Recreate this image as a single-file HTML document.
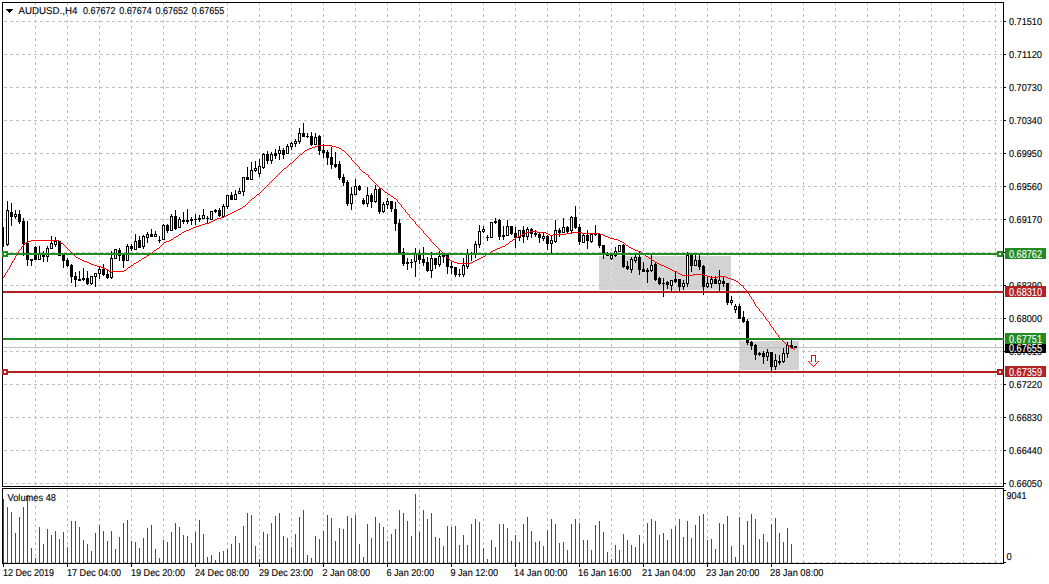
<!DOCTYPE html>
<html><head><meta charset="utf-8"><title>AUDUSD H4</title>
<style>html,body{margin:0;padding:0;background:#fff;overflow:hidden}svg{display:block}</style>
</head><body>
<svg width="1049" height="584" viewBox="0 0 1049 584" shape-rendering="crispEdges" font-family="Liberation Sans, sans-serif" font-size="10px">
<rect width="1049" height="584" fill="#fff"/>
<path d="M35.5 2V486M35.5 488V563M67.5 2V486M67.5 488V563M99.5 2V486M99.5 488V563M131.5 2V486M131.5 488V563M163.5 2V486M163.5 488V563M195.5 2V486M195.5 488V563M227.5 2V486M227.5 488V563M259.5 2V486M259.5 488V563M291.5 2V486M291.5 488V563M323.5 2V486M323.5 488V563M355.5 2V486M355.5 488V563M387.5 2V486M387.5 488V563M419.5 2V486M419.5 488V563M451.5 2V486M451.5 488V563M483.5 2V486M483.5 488V563M515.5 2V486M515.5 488V563M547.5 2V486M547.5 488V563M579.5 2V486M579.5 488V563M611.5 2V486M611.5 488V563M643.5 2V486M643.5 488V563M675.5 2V486M675.5 488V563M707.5 2V486M707.5 488V563M739.5 2V486M739.5 488V563M771.5 2V486M771.5 488V563M803.5 2V486M803.5 488V563M835.5 2V486M835.5 488V563M867.5 2V486M867.5 488V563M899.5 2V486M899.5 488V563M931.5 2V486M931.5 488V563M963.5 2V486M963.5 488V563M995.5 2V486M995.5 488V563" stroke="#c0c0c0" stroke-width="1" stroke-dasharray="3 3" fill="none"/>
<path d="M4 21.5H1002M4 54.5H1002M4 87.5H1002M4 120.5H1002M4 153.5H1002M4 186.5H1002M4 219.5H1002M4 252.5H1002M4 285.5H1002M4 318.5H1002M4 351.5H1002M4 384.5H1002M4 417.5H1002M4 450.5H1002M4 483.5H1002" stroke="#c0c0c0" stroke-width="1" stroke-dasharray="3 3" fill="none"/>
<path d="M4 562.5H1002" stroke="#c0c0c0" stroke-dasharray="3 3" fill="none"/>
<!--RECTS-->
<rect x="599" y="256" width="132" height="34" fill="#d3d3d3"/>
<rect x="739" y="341" width="60" height="29" fill="#d3d3d3"/>
<clipPath id="rc"><rect x="599" y="256" width="132" height="34"/><rect x="739" y="341" width="60" height="29"/></clipPath>
<path clip-path="url(#rc)" d="M611.5 2V486M643.5 2V486M675.5 2V486M707.5 2V486M739.5 2V486M771.5 2V486" stroke="#e8e8e8" stroke-width="1" stroke-dasharray="3 3" fill="none"/>
<path clip-path="url(#rc)" d="M4 285.5H1002M4 351.5H1002" stroke="#c4c4c4" stroke-width="1" stroke-dasharray="3 3" fill="none"/>
<rect x="3" y="347" width="1000" height="1" fill="#c0c0c0"/>
<path d="M3 227h1v20h-1zM7 201h1v45h-1zM11 203h1v23h-1zM15 210h1v9h-1zM19 210h1v14h-1zM23 218h1v38h-1zM27 221h1v45h-1zM31 259h1v7h-1zM35 246h1v14h-1zM39 246h1v14h-1zM43 251h1v11h-1zM47 246h1v16h-1zM51 236h1v13h-1zM55 237h1v10h-1zM59 241h1v15h-1zM63 254h1v14h-1zM67 258h1v9h-1zM71 264h1v19h-1zM75 272h1v15h-1zM79 271h1v10h-1zM83 268h1v13h-1zM87 271h1v14h-1zM91 276h1v9h-1zM95 273h1v14h-1zM99 267h1v12h-1zM103 264h1v12h-1zM107 270h1v9h-1zM111 251h1v28h-1zM115 249h1v10h-1zM119 248h1v13h-1zM123 253h1v15h-1zM127 244h1v17h-1zM131 244h1v7h-1zM135 234h1v16h-1zM139 236h1v12h-1zM143 235h1v14h-1zM147 232h1v11h-1zM151 229h1v8h-1zM155 231h1v6h-1zM159 236h1v7h-1zM163 224h1v16h-1zM167 224h1v9h-1zM171 214h1v17h-1zM175 210h1v20h-1zM179 217h1v11h-1zM183 212h1v12h-1zM187 209h1v15h-1zM191 217h1v8h-1zM195 214h1v11h-1zM199 215h1v7h-1zM203 209h1v10h-1zM207 216h1v8h-1zM211 211h1v9h-1zM215 209h1v4h-1zM219 208h1v9h-1zM223 204h1v13h-1zM227 195h1v14h-1zM231 192h1v8h-1zM235 190h1v10h-1zM239 188h1v6h-1zM243 177h1v19h-1zM247 167h1v13h-1zM251 162h1v18h-1zM255 161h1v11h-1zM259 159h1v18h-1zM263 153h1v16h-1zM267 151h1v13h-1zM271 152h1v12h-1zM275 149h1v10h-1zM279 146h1v14h-1zM283 148h1v11h-1zM287 144h1v10h-1zM291 142h1v8h-1zM295 139h1v8h-1zM299 128h1v16h-1zM303 123h1v14h-1zM307 133h1v5h-1zM311 132h1v14h-1zM315 133h1v12h-1zM319 135h1v20h-1zM323 144h1v14h-1zM327 150h1v15h-1zM331 147h1v22h-1zM335 152h1v16h-1zM339 161h1v19h-1zM343 174h1v12h-1zM347 180h1v26h-1zM351 187h1v23h-1zM355 179h1v16h-1zM359 185h1v6h-1zM363 198h1v7h-1zM367 187h1v20h-1zM371 193h1v15h-1zM375 185h1v18h-1zM379 188h1v26h-1zM383 202h1v11h-1zM387 198h1v11h-1zM391 201h1v11h-1zM395 202h1v29h-1zM399 219h1v36h-1zM403 248h1v18h-1zM407 258h1v12h-1zM411 259h1v9h-1zM415 248h1v29h-1zM419 250h1v14h-1zM423 247h1v19h-1zM427 257h1v15h-1zM431 252h1v26h-1zM435 258h1v11h-1zM439 251h1v16h-1zM443 253h1v10h-1zM447 253h1v21h-1zM451 262h1v12h-1zM455 267h1v10h-1zM459 269h1v8h-1zM463 258h1v19h-1zM467 249h1v20h-1zM471 252h1v9h-1zM475 241h1v17h-1zM479 225h1v23h-1zM483 226h1v7h-1zM487 235h1v6h-1zM491 222h1v16h-1zM495 218h1v6h-1zM499 219h1v21h-1zM503 226h1v14h-1zM507 220h1v16h-1zM511 226h1v9h-1zM515 227h1v21h-1zM519 230h1v11h-1zM523 226h1v17h-1zM527 227h1v13h-1zM531 228h1v10h-1zM535 230h1v7h-1zM539 233h1v10h-1zM543 233h1v8h-1zM547 235h1v15h-1zM551 236h1v18h-1zM555 220h1v23h-1zM559 228h1v9h-1zM563 218h1v15h-1zM567 226h1v7h-1zM571 216h1v17h-1zM575 206h1v23h-1zM579 224h1v21h-1zM583 234h1v9h-1zM587 230h1v19h-1zM591 234h1v9h-1zM595 225h1v11h-1zM599 233h1v15h-1zM603 245h1v14h-1zM607 252h1v4h-1zM611 253h1v7h-1zM615 247h1v10h-1zM619 245h1v7h-1zM623 244h1v24h-1zM627 261h1v9h-1zM631 257h1v16h-1zM635 255h1v8h-1zM639 251h1v24h-1zM643 262h1v10h-1zM647 268h1v15h-1zM651 254h1v18h-1zM655 262h1v19h-1zM659 277h1v8h-1zM663 278h1v19h-1zM667 281h1v8h-1zM671 280h1v11h-1zM675 271h1v12h-1zM679 279h1v12h-1zM683 280h1v10h-1zM687 252h1v35h-1zM691 253h1v19h-1zM695 254h1v12h-1zM699 254h1v16h-1zM703 265h1v30h-1zM707 276h1v12h-1zM711 276h1v12h-1zM715 276h1v8h-1zM719 270h1v21h-1zM723 277h1v10h-1zM727 283h1v22h-1zM731 296h1v9h-1zM735 304h1v9h-1zM739 304h1v15h-1zM743 311h1v12h-1zM747 319h1v26h-1zM751 341h1v9h-1zM755 344h1v16h-1zM759 352h1v4h-1zM763 351h1v13h-1zM767 349h1v12h-1zM771 352h1v19h-1zM775 354h1v16h-1zM779 355h1v10h-1zM783 348h1v15h-1zM787 342h1v16h-1zM791 340h1v9h-1zM795 346h1v2h-1zM2 227h2v19h-2zM6 210h3v35h-3zM10 212h3v5h-3zM14 214h3v3h-3zM18 214h3v8h-3zM22 221h3v23h-3zM26 243h3v17h-3zM30 259h3v2h-3zM34 247h3v13h-3zM38 253h3v7h-3zM42 254h3v3h-3zM46 248h3v9h-3zM50 243h3v6h-3zM54 241h3v4h-3zM58 241h3v15h-3zM62 254h3v7h-3zM66 260h3v6h-3zM70 265h3v12h-3zM74 276h3v4h-3zM78 279h3v2h-3zM82 278h3v2h-3zM86 278h3v6h-3zM90 276h3v8h-3zM94 273h3v4h-3zM98 269h3v5h-3zM102 269h3v6h-3zM106 274h3v4h-3zM110 258h3v20h-3zM114 249h3v10h-3zM118 250h3v6h-3zM122 253h3v8h-3zM126 246h3v15h-3zM130 246h3v3h-3zM134 241h3v9h-3zM138 240h3v8h-3zM142 236h3v11h-3zM146 234h3v4h-3zM150 234h3v3h-3zM154 234h3v3h-3zM158 240h3v1h-3zM162 225h3v15h-3zM166 225h3v6h-3zM170 216h3v15h-3zM174 216h3v13h-3zM178 219h3v9h-3zM182 220h3v2h-3zM186 220h3v2h-3zM190 219h3v2h-3zM194 219h3v1h-3zM198 218h3v2h-3zM202 215h3v4h-3zM206 218h3v1h-3zM210 211h3v9h-3zM214 210h3v2h-3zM218 210h3v6h-3zM222 206h3v11h-3zM226 195h3v12h-3zM230 195h3v5h-3zM234 194h3v6h-3zM238 191h3v3h-3zM242 177h3v15h-3zM246 177h3v3h-3zM250 170h3v10h-3zM254 168h3v3h-3zM258 166h3v8h-3zM262 154h3v14h-3zM266 154h3v7h-3zM270 154h3v7h-3zM274 153h3v3h-3zM278 150h3v4h-3zM282 150h3v5h-3zM286 146h3v8h-3zM290 143h3v4h-3zM294 141h3v3h-3zM298 133h3v9h-3zM302 133h3v4h-3zM306 136h3v1h-3zM310 136h3v9h-3zM314 137h3v8h-3zM318 136h3v15h-3zM322 150h3v3h-3zM326 152h3v6h-3zM330 157h3v8h-3zM334 164h3v3h-3zM338 164h3v14h-3zM342 177h3v6h-3zM346 182h3v22h-3zM350 194h3v10h-3zM354 186h3v9h-3zM358 186h3v4h-3zM362 200h3v4h-3zM366 195h3v9h-3zM370 195h3v7h-3zM374 189h3v13h-3zM378 189h3v23h-3zM382 204h3v8h-3zM386 201h3v4h-3zM390 201h3v8h-3zM394 209h3v15h-3zM398 223h3v32h-3zM402 252h3v12h-3zM406 262h3v2h-3zM410 262h3v1h-3zM414 254h3v8h-3zM418 254h3v6h-3zM422 259h3v4h-3zM426 262h3v9h-3zM430 258h3v13h-3zM434 258h3v7h-3zM438 256h3v9h-3zM442 254h3v3h-3zM446 254h3v13h-3zM450 266h3v2h-3zM454 267h3v8h-3zM458 274h3v1h-3zM462 265h3v10h-3zM466 254h3v13h-3zM470 253h3v2h-3zM474 244h3v10h-3zM478 231h3v14h-3zM482 229h3v3h-3zM486 237h3v1h-3zM490 222h3v16h-3zM494 221h3v2h-3zM498 220h3v17h-3zM502 235h3v2h-3zM506 226h3v10h-3zM510 226h3v8h-3zM514 233h3v5h-3zM518 230h3v8h-3zM522 230h3v7h-3zM526 229h3v8h-3zM530 229h3v5h-3zM534 233h3v2h-3zM538 234h3v4h-3zM542 236h3v3h-3zM546 236h3v8h-3zM550 240h3v4h-3zM554 230h3v12h-3zM558 230h3v3h-3zM562 227h3v6h-3zM566 227h3v5h-3zM570 217h3v14h-3zM574 217h3v11h-3zM578 227h3v15h-3zM582 235h3v8h-3zM586 235h3v6h-3zM590 234h3v8h-3zM594 233h3v2h-3zM598 234h3v12h-3zM602 245h3v10h-3zM606 255h3v1h-3zM610 255h3v4h-3zM614 251h3v5h-3zM618 245h3v7h-3zM622 245h3v22h-3zM626 266h3v3h-3zM630 259h3v11h-3zM634 257h3v4h-3zM638 257h3v13h-3zM642 269h3v3h-3zM646 270h3v2h-3zM650 265h3v6h-3zM654 264h3v16h-3zM658 278h3v6h-3zM662 283h3v1h-3zM666 282h3v3h-3zM670 280h3v6h-3zM674 279h3v3h-3zM678 279h3v8h-3zM682 283h3v4h-3zM686 255h3v29h-3zM690 254h3v12h-3zM694 260h3v6h-3zM698 260h3v7h-3zM702 266h3v21h-3zM706 283h3v4h-3zM710 279h3v5h-3zM714 279h3v5h-3zM718 280h3v4h-3zM722 281h3v3h-3zM726 283h3v20h-3zM730 300h3v3h-3zM734 306h3v4h-3zM738 306h3v13h-3zM742 317h3v5h-3zM746 321h3v22h-3zM750 342h3v4h-3zM754 345h3v10h-3zM758 353h3v2h-3zM762 353h3v4h-3zM766 352h3v5h-3zM770 352h3v15h-3zM774 360h3v7h-3zM778 361h3v2h-3zM782 353h3v9h-3zM786 345h3v9h-3zM790 345h3v3h-3zM794 346h3v2h-3z" fill="#000"/>
<path d="M7 211h1v33h-1zM15 215h1v1h-1zM39 254h1v5h-1zM47 249h1v7h-1zM51 244h1v4h-1zM55 242h1v2h-1zM91 277h1v6h-1zM95 274h1v2h-1zM99 270h1v3h-1zM111 259h1v18h-1zM115 250h1v8h-1zM127 247h1v13h-1zM135 242h1v7h-1zM143 237h1v9h-1zM147 235h1v2h-1zM155 235h1v1h-1zM163 226h1v13h-1zM171 217h1v13h-1zM179 220h1v7h-1zM203 216h1v2h-1zM211 212h1v7h-1zM223 207h1v9h-1zM227 196h1v10h-1zM235 195h1v4h-1zM239 192h1v1h-1zM243 178h1v13h-1zM251 171h1v8h-1zM255 169h1v1h-1zM259 167h1v6h-1zM263 155h1v12h-1zM271 155h1v5h-1zM279 151h1v2h-1zM287 147h1v6h-1zM291 144h1v2h-1zM295 142h1v1h-1zM299 134h1v7h-1zM315 138h1v6h-1zM351 195h1v8h-1zM355 187h1v7h-1zM367 196h1v7h-1zM375 190h1v11h-1zM383 205h1v6h-1zM387 202h1v2h-1zM415 255h1v6h-1zM431 259h1v11h-1zM439 257h1v7h-1zM463 266h1v8h-1zM467 255h1v11h-1zM475 245h1v8h-1zM479 232h1v12h-1zM483 230h1v1h-1zM491 223h1v14h-1zM507 227h1v8h-1zM519 231h1v6h-1zM527 230h1v6h-1zM543 237h1v1h-1zM551 241h1v2h-1zM555 231h1v10h-1zM563 228h1v4h-1zM571 218h1v12h-1zM583 236h1v6h-1zM591 235h1v6h-1zM611 256h1v2h-1zM615 252h1v3h-1zM619 246h1v5h-1zM631 260h1v9h-1zM635 258h1v2h-1zM651 266h1v4h-1zM671 281h1v4h-1zM683 284h1v2h-1zM687 256h1v27h-1zM695 261h1v4h-1zM707 284h1v2h-1zM711 280h1v3h-1zM719 281h1v2h-1zM731 301h1v1h-1zM735 307h1v2h-1zM767 353h1v3h-1zM775 361h1v5h-1zM783 354h1v7h-1zM787 346h1v7h-1z" fill="#fff"/>
<path d="M3 499h1v64h-1zM19 517h1v46h-1zM23 507h1v56h-1zM27 495h1v68h-1zM39 527h1v36h-1zM47 529h1v34h-1zM55 531h1v32h-1zM63 532h1v31h-1zM71 521h1v42h-1zM75 521h1v42h-1zM95 533h1v30h-1zM99 525h1v38h-1zM111 531h1v32h-1zM119 537h1v26h-1zM123 523h1v40h-1zM127 520h1v43h-1zM143 538h1v25h-1zM147 528h1v35h-1zM151 525h1v38h-1zM163 540h1v23h-1zM171 532h1v31h-1zM175 523h1v40h-1zM195 532h1v31h-1zM199 520h1v43h-1zM211 555h1v8h-1zM219 552h1v11h-1zM223 551h1v12h-1zM227 549h1v14h-1zM231 544h1v19h-1zM235 536h1v27h-1zM243 526h1v37h-1zM247 513h1v50h-1zM263 532h1v31h-1zM271 523h1v40h-1zM275 516h1v47h-1zM279 513h1v50h-1zM295 534h1v29h-1zM299 517h1v46h-1zM303 510h1v53h-1zM315 536h1v27h-1zM323 531h1v32h-1zM327 515h1v48h-1zM339 528h1v35h-1zM347 516h1v47h-1zM355 515h1v48h-1zM367 524h1v39h-1zM375 517h1v46h-1zM391 534h1v29h-1zM395 529h1v34h-1zM399 510h1v53h-1zM415 494h1v69h-1zM423 510h1v53h-1zM431 513h1v50h-1zM447 526h1v37h-1zM455 526h1v37h-1zM463 535h1v28h-1zM471 524h1v39h-1zM475 519h1v44h-1zM491 540h1v23h-1zM499 524h1v39h-1zM515 535h1v28h-1zM523 524h1v39h-1zM527 517h1v46h-1zM539 541h1v22h-1zM547 530h1v33h-1zM551 519h1v44h-1zM563 542h1v21h-1zM571 524h1v39h-1zM575 519h1v44h-1zM587 540h1v23h-1zM595 525h1v38h-1zM599 521h1v42h-1zM615 545h1v18h-1zM623 534h1v29h-1zM639 535h1v28h-1zM647 523h1v40h-1zM651 519h1v44h-1zM663 533h1v30h-1zM671 529h1v34h-1zM675 526h1v37h-1zM679 519h1v44h-1zM687 521h1v42h-1zM695 525h1v38h-1zM699 516h1v47h-1zM703 514h1v49h-1zM711 539h1v24h-1zM719 523h1v40h-1zM727 516h1v47h-1zM739 517h1v46h-1zM747 521h1v42h-1zM751 514h1v49h-1zM763 534h1v29h-1zM771 524h1v39h-1zM775 518h1v45h-1zM787 528h1v35h-1z" fill="#008000"/>
<path d="M7 507h1v56h-1zM11 512h1v51h-1zM15 533h1v30h-1zM31 548h1v15h-1zM35 558h1v5h-1zM43 544h1v19h-1zM51 535h1v28h-1zM59 539h1v24h-1zM67 547h1v16h-1zM79 527h1v36h-1zM83 540h1v23h-1zM87 544h1v19h-1zM91 551h1v12h-1zM103 531h1v32h-1zM107 541h1v22h-1zM115 549h1v14h-1zM131 541h1v22h-1zM135 542h1v21h-1zM139 548h1v15h-1zM155 549h1v14h-1zM159 558h1v5h-1zM167 542h1v21h-1zM179 527h1v36h-1zM183 535h1v28h-1zM187 536h1v27h-1zM191 543h1v20h-1zM203 534h1v29h-1zM207 557h1v6h-1zM215 560h1v3h-1zM239 543h1v20h-1zM251 515h1v48h-1zM255 546h1v17h-1zM259 559h1v4h-1zM267 534h1v29h-1zM283 536h1v27h-1zM287 538h1v25h-1zM291 547h1v16h-1zM307 555h1v8h-1zM311 558h1v5h-1zM319 539h1v24h-1zM331 518h1v45h-1zM335 541h1v22h-1zM343 529h1v34h-1zM351 518h1v45h-1zM359 544h1v19h-1zM363 557h1v6h-1zM371 538h1v25h-1zM379 523h1v40h-1zM383 527h1v36h-1zM387 541h1v22h-1zM403 513h1v50h-1zM407 521h1v42h-1zM411 536h1v27h-1zM419 532h1v31h-1zM427 519h1v44h-1zM435 537h1v26h-1zM439 538h1v25h-1zM443 546h1v17h-1zM451 527h1v36h-1zM459 545h1v18h-1zM467 545h1v18h-1zM479 522h1v41h-1zM483 548h1v15h-1zM487 559h1v4h-1zM495 547h1v16h-1zM503 524h1v39h-1zM507 528h1v35h-1zM511 541h1v22h-1zM519 542h1v21h-1zM531 531h1v32h-1zM535 542h1v21h-1zM543 546h1v17h-1zM555 524h1v39h-1zM559 543h1v20h-1zM567 550h1v13h-1zM579 523h1v40h-1zM583 540h1v23h-1zM591 550h1v13h-1zM603 532h1v31h-1zM607 552h1v11h-1zM611 559h1v4h-1zM619 550h1v13h-1zM627 540h1v23h-1zM631 545h1v18h-1zM635 547h1v16h-1zM643 544h1v19h-1zM655 521h1v42h-1zM659 535h1v28h-1zM667 540h1v23h-1zM683 537h1v26h-1zM691 538h1v25h-1zM707 540h1v23h-1zM715 549h1v14h-1zM723 524h1v39h-1zM731 546h1v17h-1zM735 557h1v6h-1zM743 545h1v18h-1zM755 519h1v44h-1zM759 539h1v24h-1zM767 542h1v21h-1zM779 533h1v30h-1zM783 542h1v21h-1zM791 544h1v19h-1z" fill="#ff0000"/>
<path d="M286 167h1v1h-1zM359 167h1v1h-1zM5 274h1v1h-1zM680 274h2v1h-2zM693 274h11v1h-11zM4 276h1v1h-1zM707 276h3v1h-3zM718 276h8v1h-8zM26 242h2v1h-2zM60 242h1v1h-1zM164 242h2v1h-2zM432 242h1v1h-1zM509 242h1v1h-1zM622 242h2v1h-2zM304 151h1v1h-1zM344 151h1v1h-1zM11 263h1v1h-1zM89 263h2v1h-2zM134 263h2v1h-2zM457 263h14v1h-14zM657 263h2v1h-2zM31 240h28v1h-28zM169 240h2v1h-2zM430 240h1v1h-1zM512 240h1v1h-1zM618 240h2v1h-2zM217 218h4v1h-4zM411 218h1v1h-1zM181 233h1v1h-1zM424 233h1v1h-1zM524 233h2v1h-2zM546 233h2v1h-2zM566 233h6v1h-6zM582 233h18v1h-18zM246 204h1v1h-1zM400 204h1v1h-1zM191 228h2v1h-2zM420 228h1v1h-1zM318 145h14v1h-14zM18 251h1v1h-1zM70 251h1v1h-1zM153 251h1v1h-1zM441 251h1v1h-1zM491 251h2v1h-2zM638 251h3v1h-3zM245 205h1v1h-1zM401 205h1v1h-1zM232 212h2v1h-2zM406 212h1v1h-1zM15 256h1v1h-1zM75 256h1v1h-1zM146 256h1v1h-1zM446 256h1v1h-1zM483 256h2v1h-2zM646 256h2v1h-2zM8 269h1v1h-1zM106 269h2v1h-2zM126 269h1v1h-1zM670 269h2v1h-2zM12 262h1v1h-1zM87 262h2v1h-2zM136 262h2v1h-2zM454 262h3v1h-3zM471 262h2v1h-2zM655 262h2v1h-2zM184 231h2v1h-2zM423 231h1v1h-1zM530 231h7v1h-7zM784 342h1v1h-1zM256 195h1v1h-1zM390 195h1v1h-1zM202 224h3v1h-3zM416 224h1v1h-1zM22 246h1v1h-1zM65 246h1v1h-1zM160 246h1v1h-1zM436 246h1v1h-1zM502 246h3v1h-3zM628 246h1v1h-1zM9 267h1v1h-1zM101 267h2v1h-2zM128 267h2v1h-2zM666 267h2v1h-2zM179 234h2v1h-2zM425 234h1v1h-1zM522 234h2v1h-2zM548 234h2v1h-2zM553 234h13v1h-13zM600 234h3v1h-3zM228 214h2v1h-2zM408 214h1v1h-1zM260 192h1v1h-1zM385 192h2v1h-2zM295 159h1v1h-1zM351 159h1v1h-1zM249 201h1v1h-1zM397 201h1v1h-1zM284 168h2v1h-2zM359 168h1v1h-1zM14 259h1v1h-1zM80 259h2v1h-2zM141 259h1v1h-1zM449 259h1v1h-1zM477 259h2v1h-2zM651 259h1v1h-1zM196 226h3v1h-3zM418 226h1v1h-1zM315 146h3v1h-3zM332 146h4v1h-4zM11 264h1v1h-1zM91 264h3v1h-3zM133 264h1v1h-1zM659 264h2v1h-2zM7 271h1v1h-1zM109 271h2v1h-2zM112 271h12v1h-12zM674 271h3v1h-3zM174 237h2v1h-2zM428 237h1v1h-1zM516 237h2v1h-2zM608 237h2v1h-2zM762 313h1v1h-1zM213 220h2v1h-2zM413 220h1v1h-1zM18 252h1v1h-1zM71 252h1v1h-1zM152 252h1v1h-1zM442 252h1v1h-1zM490 252h1v1h-1zM641 252h1v1h-1zM307 149h2v1h-2zM341 149h1v1h-1zM17 253h1v1h-1zM72 253h1v1h-1zM150 253h2v1h-2zM443 253h1v1h-1zM488 253h2v1h-2zM642 253h1v1h-1zM9 268h1v1h-1zM103 268h3v1h-3zM127 268h1v1h-1zM668 268h2v1h-2zM3 277h1v1h-1zM710 277h8v1h-8zM726 277h2v1h-2zM182 232h2v1h-2zM423 232h1v1h-1zM526 232h4v1h-4zM537 232h9v1h-9zM572 232h10v1h-10zM773 328h1v1h-1zM776 333h1v1h-1zM20 249h1v1h-1zM68 249h1v1h-1zM156 249h1v1h-1zM439 249h1v1h-1zM495 249h2v1h-2zM633 249h2v1h-2zM270 182h1v1h-1zM374 182h1v1h-1zM272 180h1v1h-1zM372 180h1v1h-1zM777 334h1v1h-1zM178 235h1v1h-1zM426 235h1v1h-1zM520 235h2v1h-2zM550 235h3v1h-3zM603 235h2v1h-2zM19 250h1v1h-1zM69 250h1v1h-1zM154 250h2v1h-2zM440 250h1v1h-1zM493 250h2v1h-2zM635 250h3v1h-3zM269 183h1v1h-1zM375 183h1v1h-1zM24 243h2v1h-2zM61 243h2v1h-2zM163 243h1v1h-1zM433 243h1v1h-1zM508 243h1v1h-1zM624 243h1v1h-1zM186 230h3v1h-3zM422 230h1v1h-1zM312 147h3v1h-3zM336 147h3v1h-3zM257 194h2v1h-2zM388 194h2v1h-2zM176 236h2v1h-2zM427 236h1v1h-1zM518 236h2v1h-2zM605 236h3v1h-3zM305 150h2v1h-2zM342 150h2v1h-2zM14 258h1v1h-1zM78 258h2v1h-2zM142 258h2v1h-2zM448 258h1v1h-1zM479 258h2v1h-2zM649 258h2v1h-2zM743 286h1v1h-1zM21 247h1v1h-1zM66 247h1v1h-1zM159 247h1v1h-1zM437 247h1v1h-1zM500 247h2v1h-2zM629 247h2v1h-2zM761 312h1v1h-1zM4 275h1v1h-1zM682 275h11v1h-11zM704 275h3v1h-3zM21 248h1v1h-1zM67 248h1v1h-1zM157 248h2v1h-2zM438 248h1v1h-1zM497 248h3v1h-3zM631 248h2v1h-2zM224 216h2v1h-2zM409 216h1v1h-1zM309 148h3v1h-3zM339 148h2v1h-2zM765 318h1v1h-1zM171 239h2v1h-2zM430 239h1v1h-1zM513 239h2v1h-2zM614 239h4v1h-4zM278 174h1v1h-1zM366 174h2v1h-2zM205 223h4v1h-4zM415 223h1v1h-1zM209 222h2v1h-2zM415 222h1v1h-1zM28 241h3v1h-3zM59 241h1v1h-1zM166 241h3v1h-3zM431 241h1v1h-1zM510 241h2v1h-2zM620 241h2v1h-2zM289 164h1v1h-1zM356 164h1v1h-1zM791 348h3v1h-3zM281 171h1v1h-1zM362 171h1v1h-1zM740 284h1v1h-1zM16 255h1v1h-1zM74 255h1v1h-1zM147 255h2v1h-2zM445 255h1v1h-1zM485 255h1v1h-1zM645 255h1v1h-1zM243 206h2v1h-2zM401 206h1v1h-1zM279 173h1v1h-1zM365 173h1v1h-1zM13 260h1v1h-1zM82 260h2v1h-2zM139 260h2v1h-2zM450 260h1v1h-1zM475 260h2v1h-2zM652 260h2v1h-2zM280 172h1v1h-1zM363 172h2v1h-2zM240 208h2v1h-2zM403 208h1v1h-1zM173 238h1v1h-1zM429 238h1v1h-1zM515 238h1v1h-1zM610 238h4v1h-4zM15 257h1v1h-1zM76 257h2v1h-2zM144 257h2v1h-2zM447 257h1v1h-1zM481 257h2v1h-2zM648 257h1v1h-1zM16 254h1v1h-1zM73 254h1v1h-1zM149 254h1v1h-1zM444 254h1v1h-1zM486 254h2v1h-2zM643 254h2v1h-2zM728 278h3v1h-3zM299 155h1v1h-1zM348 155h1v1h-1zM189 229h2v1h-2zM421 229h1v1h-1zM267 185h1v1h-1zM377 185h1v1h-1zM790 347h1v1h-1zM264 188h1v1h-1zM380 188h2v1h-2zM247 203h1v1h-1zM399 203h1v1h-1zM290 163h2v1h-2zM355 163h1v1h-1zM738 282h1v1h-1zM775 331h1v1h-1zM226 215h2v1h-2zM409 215h1v1h-1zM765 317h1v1h-1zM739 283h1v1h-1zM731 279h3v1h-3zM10 265h1v1h-1zM94 265h3v1h-3zM131 265h2v1h-2zM661 265h3v1h-3zM779 337h1v1h-1zM12 261h1v1h-1zM84 261h3v1h-3zM138 261h1v1h-1zM451 261h3v1h-3zM473 261h2v1h-2zM654 261h1v1h-1zM794 349h1v1h-1zM746 290h1v1h-1zM754 303h1v1h-1zM215 219h2v1h-2zM412 219h1v1h-1zM786 344h1v1h-1zM10 266h1v1h-1zM97 266h4v1h-4zM130 266h1v1h-1zM664 266h2v1h-2zM5 273h1v1h-1zM678 273h2v1h-2zM274 178h1v1h-1zM370 178h1v1h-1zM275 177h1v1h-1zM369 177h1v1h-1zM764 316h1v1h-1zM221 217h3v1h-3zM410 217h1v1h-1zM252 198h2v1h-2zM394 198h2v1h-2zM262 190h1v1h-1zM383 190h1v1h-1zM251 199h1v1h-1zM396 199h1v1h-1zM300 154h2v1h-2zM347 154h1v1h-1zM294 160h1v1h-1zM352 160h1v1h-1zM749 295h1v1h-1zM255 196h1v1h-1zM391 196h2v1h-2zM753 301h1v1h-1zM211 221h2v1h-2zM414 221h1v1h-1zM734 280h2v1h-2zM6 272h1v1h-1zM111 272h1v1h-1zM677 272h1v1h-1zM778 335h1v1h-1zM297 157h1v1h-1zM350 157h1v1h-1zM234 211h2v1h-2zM405 211h1v1h-1zM785 343h1v1h-1zM268 184h1v1h-1zM376 184h1v1h-1zM276 176h1v1h-1zM368 176h1v1h-1zM288 165h1v1h-1zM357 165h1v1h-1zM242 207h1v1h-1zM402 207h1v1h-1zM749 294h1v1h-1zM763 314h1v1h-1zM23 245h1v1h-1zM64 245h1v1h-1zM161 245h1v1h-1zM435 245h1v1h-1zM505 245h1v1h-1zM626 245h2v1h-2zM24 244h1v1h-1zM63 244h1v1h-1zM162 244h1v1h-1zM434 244h1v1h-1zM506 244h2v1h-2zM625 244h1v1h-1zM767 320h1v1h-1zM259 193h1v1h-1zM387 193h1v1h-1zM248 202h1v1h-1zM398 202h1v1h-1zM741 285h2v1h-2zM238 209h2v1h-2zM404 209h1v1h-1zM755 305h1v1h-1zM236 210h2v1h-2zM405 210h1v1h-1zM292 162h1v1h-1zM354 162h1v1h-1zM748 293h1v1h-1zM756 306h1v1h-1zM766 319h1v1h-1zM277 175h1v1h-1zM368 175h1v1h-1zM770 325h1v1h-1zM781 339h1v1h-1zM751 298h1v1h-1zM273 179h1v1h-1zM371 179h1v1h-1zM298 156h1v1h-1zM349 156h1v1h-1zM7 270h1v1h-1zM108 270h1v1h-1zM124 270h2v1h-2zM672 270h2v1h-2zM752 299h1v1h-1zM755 304h1v1h-1zM263 189h1v1h-1zM382 189h1v1h-1zM193 227h3v1h-3zM419 227h1v1h-1zM736 281h2v1h-2zM303 152h1v1h-1zM345 152h1v1h-1zM748 292h1v1h-1zM788 346h2v1h-2zM230 213h2v1h-2zM407 213h1v1h-1zM261 191h1v1h-1zM384 191h1v1h-1zM296 158h1v1h-1zM351 158h1v1h-1zM199 225h3v1h-3zM417 225h1v1h-1zM780 338h1v1h-1zM283 169h1v1h-1zM360 169h1v1h-1zM250 200h1v1h-1zM397 200h1v1h-1zM747 291h1v1h-1zM750 296h1v1h-1zM787 345h1v1h-1zM266 186h1v1h-1zM378 186h1v1h-1zM751 297h1v1h-1zM759 310h1v1h-1zM769 323h1v1h-1zM287 166h1v1h-1zM358 166h1v1h-1zM754 302h1v1h-1zM757 307h1v1h-1zM271 181h1v1h-1zM373 181h1v1h-1zM758 308h1v1h-1zM743 287h1v1h-1zM753 300h1v1h-1zM783 341h1v1h-1zM768 321h1v1h-1zM772 327h1v1h-1zM782 340h1v1h-1zM302 153h1v1h-1zM346 153h1v1h-1zM771 326h1v1h-1zM775 332h1v1h-1zM293 161h1v1h-1zM353 161h1v1h-1zM282 170h1v1h-1zM361 170h1v1h-1zM760 311h1v1h-1zM770 324h1v1h-1zM254 197h1v1h-1zM393 197h1v1h-1zM774 330h1v1h-1zM265 187h1v1h-1zM379 187h1v1h-1zM778 336h1v1h-1zM744 288h1v1h-1zM745 289h1v1h-1zM759 309h1v1h-1zM773 329h1v1h-1zM763 315h1v1h-1zM769 322h1v1h-1z" fill="#ff0000"/>
<path d="M2.5 2V487M2.5 488V564M2 2.5H1004M2 486.5H1004M2 488.5H1004M2 563.5H1004M1003.5 2V487M1003.5 488V564" stroke="#000" stroke-width="1" fill="none"/>
<rect x="3" y="253" width="1001" height="2" fill="#228b22"/>
<rect x="3" y="291" width="1001" height="2" fill="#b22222"/>
<rect x="3" y="338" width="1001" height="2" fill="#228b22"/>
<rect x="3" y="371" width="1001" height="2" fill="#b22222"/>
<rect x="2" y="251" width="6" height="6" fill="#228b22"/><rect x="4" y="253" width="2" height="2" fill="#fff"/>
<rect x="997" y="251" width="6" height="6" fill="#228b22"/><rect x="999" y="253" width="2" height="2" fill="#fff"/>
<rect x="2" y="369" width="6" height="6" fill="#b22222"/><rect x="4" y="371" width="2" height="2" fill="#fff"/>
<rect x="997" y="369" width="6" height="6" fill="#b22222"/><rect x="999" y="371" width="2" height="2" fill="#fff"/>
<path d="M1004 21.5H1006M1004 54.5H1006M1004 87.5H1006M1004 120.5H1006M1004 153.5H1006M1004 186.5H1006M1004 219.5H1006M1004 252.5H1006M1004 285.5H1006M1004 318.5H1006M1004 351.5H1006M1004 384.5H1006M1004 417.5H1006M1004 450.5H1006M1004 483.5H1006M1004 490.5H1006M1004 562.5H1006" stroke="#000" fill="none"/>
<path d="M3.5 564V567M67.5 564V567M131.5 564V567M195.5 564V567M259.5 564V567M323.5 564V567M387.5 564V567M451.5 564V567M515.5 564V567M579.5 564V567M643.5 564V567M707.5 564V567M771.5 564V567" stroke="#000" fill="none"/>
<g shape-rendering="auto" text-rendering="geometricPrecision" fill="#000" stroke="#000" stroke-width="0.12">
<text x="1009" y="25" textLength="33" lengthAdjust="spacingAndGlyphs">0.71510</text>
<text x="1009" y="58" textLength="33" lengthAdjust="spacingAndGlyphs">0.71120</text>
<text x="1009" y="91" textLength="33" lengthAdjust="spacingAndGlyphs">0.70730</text>
<text x="1009" y="124" textLength="33" lengthAdjust="spacingAndGlyphs">0.70340</text>
<text x="1009" y="157" textLength="33" lengthAdjust="spacingAndGlyphs">0.69950</text>
<text x="1009" y="190" textLength="33" lengthAdjust="spacingAndGlyphs">0.69560</text>
<text x="1009" y="223" textLength="33" lengthAdjust="spacingAndGlyphs">0.69170</text>
<text x="1009" y="256" textLength="33" lengthAdjust="spacingAndGlyphs">0.68780</text>
<text x="1009" y="289" textLength="33" lengthAdjust="spacingAndGlyphs">0.68390</text>
<text x="1009" y="322" textLength="33" lengthAdjust="spacingAndGlyphs">0.68000</text>
<text x="1009" y="355" textLength="33" lengthAdjust="spacingAndGlyphs">0.67610</text>
<text x="1009" y="388" textLength="33" lengthAdjust="spacingAndGlyphs">0.67220</text>
<text x="1009" y="421" textLength="33" lengthAdjust="spacingAndGlyphs">0.66830</text>
<text x="1009" y="454" textLength="33" lengthAdjust="spacingAndGlyphs">0.66440</text>
<text x="1009" y="487" textLength="33" lengthAdjust="spacingAndGlyphs">0.66050</text>
<text x="1006.5" y="499" textLength="20" lengthAdjust="spacingAndGlyphs">9041</text>
<text x="1006.5" y="560" textLength="5.2" lengthAdjust="spacingAndGlyphs">0</text>
<text x="3" y="576" textLength="51" lengthAdjust="spacingAndGlyphs">12 Dec 2019</text>
<text x="67" y="576" textLength="54" lengthAdjust="spacingAndGlyphs">17 Dec 04:00</text>
<text x="131" y="576" textLength="54" lengthAdjust="spacingAndGlyphs">19 Dec 20:00</text>
<text x="195" y="576" textLength="54" lengthAdjust="spacingAndGlyphs">24 Dec 08:00</text>
<text x="259" y="576" textLength="54" lengthAdjust="spacingAndGlyphs">29 Dec 23:00</text>
<text x="322.5" y="576" textLength="47.5" lengthAdjust="spacingAndGlyphs">2 Jan 08:00</text>
<text x="386.5" y="576" textLength="47.5" lengthAdjust="spacingAndGlyphs">6 Jan 20:00</text>
<text x="450.5" y="576" textLength="47.5" lengthAdjust="spacingAndGlyphs">9 Jan 12:00</text>
<text x="514" y="576" textLength="53.5" lengthAdjust="spacingAndGlyphs">14 Jan 00:00</text>
<text x="578" y="576" textLength="53.5" lengthAdjust="spacingAndGlyphs">16 Jan 16:00</text>
<text x="642" y="576" textLength="53.5" lengthAdjust="spacingAndGlyphs">21 Jan 04:00</text>
<text x="706" y="576" textLength="53.5" lengthAdjust="spacingAndGlyphs">23 Jan 20:00</text>
<text x="770" y="576" textLength="53.5" lengthAdjust="spacingAndGlyphs">28 Jan 08:00</text>
<text x="18.5" y="14" textLength="58.8" lengthAdjust="spacingAndGlyphs">AUDUSD.,H4</text>
<text x="83.00" y="14" textLength="32.5" lengthAdjust="spacingAndGlyphs">0.67672</text>
<text x="119.25" y="14" textLength="32.5" lengthAdjust="spacingAndGlyphs">0.67674</text>
<text x="155.50" y="14" textLength="32.5" lengthAdjust="spacingAndGlyphs">0.67652</text>
<text x="191.75" y="14" textLength="32.5" lengthAdjust="spacingAndGlyphs">0.67655</text>
<text x="7.5" y="501" textLength="48.5" lengthAdjust="spacingAndGlyphs">Volumes 48</text>
</g>
<path d="M6 9h7v1h-1v1h-1v1h-1v1h-1v-1h-1v-1h-1v-1h-1z" fill="#000"/>
<rect x="1005" y="342" width="41" height="11" fill="#000"/>
<text x="1009" y="352" fill="#fff" stroke="#fff" stroke-width="0.12" shape-rendering="auto" textLength="33" lengthAdjust="spacingAndGlyphs">0.67655</text>
<rect x="1005" y="248" width="41" height="11" fill="#228b22"/>
<text x="1009" y="257.5" fill="#fff" stroke="#fff" stroke-width="0.12" shape-rendering="auto" textLength="33" lengthAdjust="spacingAndGlyphs">0.68762</text>
<rect x="1005" y="286" width="41" height="11" fill="#b22222"/>
<text x="1009" y="295.5" fill="#fff" stroke="#fff" stroke-width="0.12" shape-rendering="auto" textLength="33" lengthAdjust="spacingAndGlyphs">0.68310</text>
<rect x="1005" y="333" width="41" height="11" fill="#228b22"/>
<text x="1009" y="342.5" fill="#fff" stroke="#fff" stroke-width="0.12" shape-rendering="auto" textLength="33" lengthAdjust="spacingAndGlyphs">0.67751</text>
<rect x="1005" y="366" width="41" height="11" fill="#b22222"/>
<text x="1009" y="375.5" fill="#fff" stroke="#fff" stroke-width="0.12" shape-rendering="auto" textLength="33" lengthAdjust="spacingAndGlyphs">0.67359</text>
<path d="M811.5 361.5V355.5H815.5V361.5M808.5 361.5L813.5 366.5L818.5 361.5" stroke="#ff0000" fill="none"/>
<path d="M809 361.5H811M816 361.5H818" stroke="#ff0000" stroke-opacity="0.3" fill="none"/>
</svg>
</body></html>
